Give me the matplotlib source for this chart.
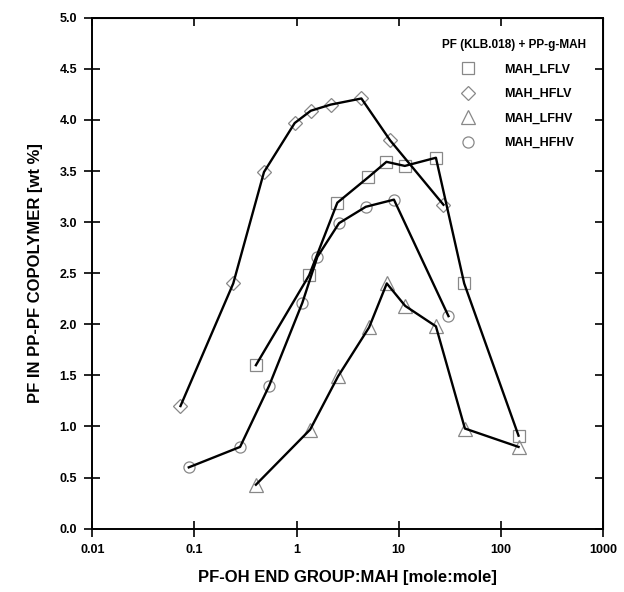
import numpy as np
import matplotlib
matplotlib.use("Agg")
import matplotlib.pyplot as plt

plt.rcParams['font.family'] = ['Liberation Sans', 'DejaVu Sans']
plt.rcParams['font.weight'] = 'bold'

# MAH_LFLV (squares)
lflv_x = [0.40, 1.33, 2.51, 5.06, 7.6, 11.5, 23.2, 43.9, 149.5]
lflv_y = [1.60, 2.48, 3.19, 3.44, 3.59, 3.55, 3.63, 2.40, 0.91]
# MAH_HFLV (diamonds)
hflv_x = [0.073, 0.24, 0.48, 0.96, 1.38, 2.16, 4.32, 8.26, 27.5]
hflv_y = [1.20, 2.40, 3.49, 3.97, 4.09, 4.15, 4.21, 3.80, 3.17]
# MAH_LFHV (triangles)
lfhv_x = [0.40, 1.36, 2.55, 5.14, 7.66, 11.6, 23.2, 44.6, 149.5]
lfhv_y = [0.43, 0.97, 1.49, 1.97, 2.40, 2.18, 1.98, 0.98, 0.80]
# MAH_HFHV (circles)
hfhv_x = [0.088, 0.28, 0.54, 1.14, 1.6, 2.61, 4.77, 9.0, 30.8]
hfhv_y = [0.60, 0.80, 1.40, 2.21, 2.66, 2.99, 3.15, 3.22, 2.08]

xticks = [0.01, 0.1, 1, 10, 100, 1000]
xticklabels = ['0.01', '0.1', '1', '10', '100', '1000']
yticks = np.arange(0, 5.01, 0.5)

fig = plt.figure(figsize=(6.24, 5.92), dpi=100)
ax = fig.add_axes([0.148, 0.107, 0.818, 0.863])

series = [
    (lflv_x, lflv_y, 's', 'MAH_LFLV', 9),
    (hflv_x, hflv_y, 'D', 'MAH_HFLV', 7),
    (lfhv_x, lfhv_y, '^', 'MAH_LFHV', 10),
    (hfhv_x, hfhv_y, 'o', 'MAH_HFHV', 8),
]

for xs, ys, m, lab, ms in series:
    ax.plot(xs, ys, color='black', lw=1.7, solid_joinstyle='round', zorder=3)
    ax.plot(xs, ys, ls='none', marker=m, ms=ms, mfc='none', mec='#888888',
            mew=0.9, label=lab, zorder=2)

ax.set_xscale('log')
ax.set_xlim(0.01, 1000)
ax.set_ylim(0, 5)
ax.set_xticks(xticks)
ax.set_xticklabels(xticklabels)
ax.minorticks_off()
ax.set_yticks(yticks)
ax.set_yticklabels([f"{v:.1f}" for v in yticks])

ax.tick_params(axis='both', which='major', direction='inout', length=12, width=1.2,
               labelsize=9, pad=5)
for sp in ax.spines.values():
    sp.set_linewidth(1.4)

# inward ticks on the top and right frame
top = ax.secondary_xaxis('top')
top.set_xticks(xticks)
top.tick_params(direction='in', length=6, width=1.2, labeltop=False)
top.minorticks_off()
right = ax.secondary_yaxis('right')
right.set_yticks(yticks)
right.tick_params(direction='in', length=6, width=1.2, labelright=False)

ax.set_xlabel('PF-OH END GROUP:MAH [mole:mole]', fontsize=12, fontweight='bold', labelpad=10)
ax.set_ylabel('PF IN PP-PF COPOLYMER [wt %]', fontsize=12, fontweight='bold', labelpad=12)

leg = ax.legend(title='PF (KLB.018) + PP-g-MAH', loc='upper right',
                bbox_to_anchor=(0.985, 0.975), frameon=False, fontsize=9,
                title_fontsize=8.5, handletextpad=1.9, labelspacing=1.0,
                borderaxespad=0.3)
leg.get_title().set_fontweight('bold')
leg._legend_box.align = 'center'

fig.savefig('out.png', dpi=100)
